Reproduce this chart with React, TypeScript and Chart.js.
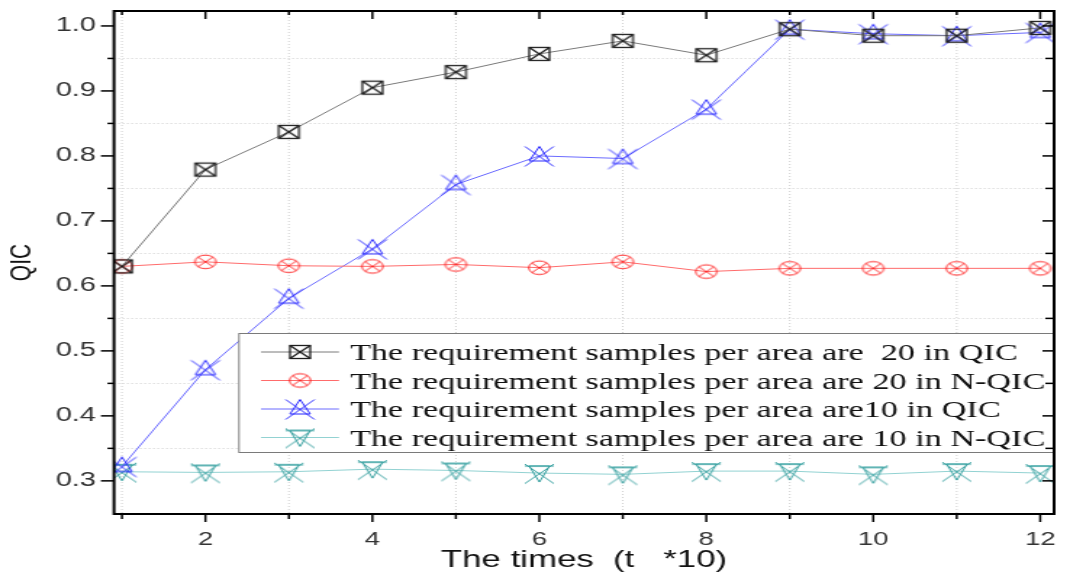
import { useEffect, useRef } from 'react';
import { Chart, registerables } from 'chart.js';

Chart.register(...registerables);

// ---- data ----
const times = [1, 2, 3, 4, 5, 6, 7, 8, 9, 10, 11, 12];
const qic20 = [0.63, 0.779, 0.837, 0.905, 0.929, 0.957, 0.977, 0.955, 0.995, 0.985, 0.985, 0.997];
const nqic20 = [0.63, 0.637, 0.631, 0.63, 0.633, 0.628, 0.637, 0.622, 0.627, 0.627, 0.627, 0.627];
const qic10 = [0.322, 0.471, 0.581, 0.657, 0.756, 0.8, 0.796, 0.872, 0.995, 0.988, 0.985, 0.99];
const nqic10 = [0.314, 0.313, 0.314, 0.318, 0.316, 0.312, 0.31, 0.315, 0.315, 0.31, 0.315, 0.312];
const seriesLabels = [
  'The requirement samples per area are  20 in QIC',
  'The requirement samples per area are 20 in N-QIC',
  'The requirement samples per area are10 in QIC',
  'The requirement samples per area are 10 in N-QIC',
];
const xMajorTicks = [2, 4, 6, 8, 10, 12];
const xMinorTicks = [1, 3, 5, 7, 9, 11];
const yMajorTicks = [0.3, 0.4, 0.5, 0.6, 0.7, 0.8, 0.9, 1.0];
const yMinorTicks = [0.35, 0.45, 0.55, 0.65, 0.75, 0.85, 0.95];
const xTitle = 'The times  (t   *10)';
const yTitle = 'QIC';

// ---- geometry (canvas is drawn narrow then stretched horizontally) ----
const STRETCH = 1.45;
const CW = Math.round(1070 / STRETCH);
const CH = 572;
const AREA_RIGHT = 1062 / STRETCH;

function makeMarker(kind: string, color: string): HTMLCanvasElement {
  const c = document.createElement('canvas');
  c.width = 24;
  c.height = 24;
  const g = c.getContext('2d')!;
  g.translate(12, 12);
  g.strokeStyle = color;
  g.lineWidth = 1;
  const line = (a: number, b: number, cc: number, d: number) => {
    g.beginPath();
    g.moveTo(a, b);
    g.lineTo(cc, d);
    g.stroke();
  };
  if (kind === 'squareX') {
    g.lineWidth = 1.3;
    g.strokeRect(-7, -6.5, 14, 13);
    line(-7, -6.5, 7, 6.5);
    line(7, -6.5, -7, 6.5);
  } else if (kind === 'circleX') {
    g.beginPath();
    g.ellipse(0, 0, 7.3, 6.8, 0, 0, Math.PI * 2);
    g.stroke();
    line(-5.2, -4.8, 5.2, 4.8);
    line(5.2, -4.8, -5.2, 4.8);
  } else if (kind === 'triX') {
    line(-10, -9.5, 10, 10.5);
    line(10, -9.5, -10, 10.5);
    g.beginPath();
    g.moveTo(0, -9.5);
    g.lineTo(7, 5);
    g.lineTo(-7, 5);
    g.closePath();
    g.stroke();
  } else {
    line(-10, -9, 10, 10.5);
    line(10, -9, -10, 10.5);
    line(-10, -7, 10, -7);
    g.beginPath();
    g.moveTo(-7, -7);
    g.lineTo(7, -7);
    g.lineTo(0, 9);
    g.closePath();
    g.stroke();
  }
  return c;
}

function makeDecorPlugin(markers: HTMLCanvasElement[]) {
  return {
    id: 'decor',
    beforeDatasetsDraw(chart: any) {
      const { ctx, chartArea: a, scales } = chart;
      const xs = scales.x;
      const ys = scales.y;
      ctx.save();
      ctx.strokeStyle = '#cfcfcf';
      ctx.lineWidth = 1;
      ctx.setLineDash([1, 2]);
      for (const v of xMinorTicks) {
        const px = xs.getPixelForValue(v);
        ctx.beginPath();
        ctx.moveTo(px, a.top);
        ctx.lineTo(px, a.bottom);
        ctx.stroke();
      }
      for (const v of yMinorTicks) {
        const py = Math.round(ys.getPixelForValue(v)) + 0.5;
        ctx.beginPath();
        ctx.moveTo(a.left, py);
        ctx.lineTo(a.right, py);
        ctx.stroke();
      }
      ctx.restore();
    },
    afterDatasetsDraw(chart: any) {
      const { ctx, chartArea: a, scales } = chart;
      const xs = scales.x;
      const ys = scales.y;

      // legend box
      const lg = { left: 239 / STRETCH, top: 333, right: a.right, bottom: 452 };
      ctx.save();
      ctx.fillStyle = '#ffffff';
      ctx.fillRect(lg.left, lg.top, lg.right - lg.left, lg.bottom - lg.top);
      ctx.strokeStyle = '#7a7a7a';
      ctx.lineWidth = 1;
      ctx.strokeRect(lg.left, lg.top + 0.5, lg.right - lg.left, lg.bottom - lg.top);
      const rows = [352, 380.5, 409, 437.5];
      chart.data.datasets.forEach((ds: any, i: number) => {
        const y = rows[i];
        ctx.strokeStyle = ds.borderColor;
        ctx.lineWidth = 1;
        ctx.beginPath();
        ctx.moveTo(261 / STRETCH, y);
        ctx.lineTo(339 / STRETCH, y);
        ctx.stroke();
        const m = markers[i];
        if (m) ctx.drawImage(m, 300 / STRETCH - m.width / 2, y - m.height / 2);
        ctx.fillStyle = '#111';
        ctx.font = '23.6px "Liberation Serif", "Times New Roman", serif';
        ctx.textBaseline = 'alphabetic';
        ctx.textAlign = 'left';
        ctx.fillText(ds.label, 350 / STRETCH, y + 8);
      });

      // frame
      ctx.strokeStyle = '#000';
      ctx.lineWidth = 2;
      ctx.strokeRect(a.left, a.top, a.right - a.left, a.bottom - a.top);

      // ticks
      ctx.lineWidth = 1.5;
      const tick = (x1: number, y1: number, x2: number, y2: number) => {
        ctx.beginPath();
        ctx.moveTo(x1, y1);
        ctx.lineTo(x2, y2);
        ctx.stroke();
      };
      for (const v of yMajorTicks) {
        const py = ys.getPixelForValue(v);
        tick(a.left - 9, py, a.left, py);
        tick(a.right - 8, py, a.right, py);
      }
      for (const v of yMinorTicks) {
        const py = ys.getPixelForValue(v);
        tick(a.left - 4.5, py, a.left, py);
        tick(a.right - 6, py, a.right, py);
      }
      for (const v of xMajorTicks) {
        const px = xs.getPixelForValue(v);
        tick(px, a.bottom, px, a.bottom + 8);
        tick(px, a.top, px, a.top + 8);
      }
      for (const v of xMinorTicks) {
        const px = xs.getPixelForValue(v);
        tick(px, a.bottom, px, a.bottom + 5);
        tick(px, a.top, px, a.top + 4);
      }
      ctx.restore();
    },
  };
}

export default function App() {
  const ref = useRef<HTMLCanvasElement>(null);

  useEffect(() => {
    const canvas = ref.current!;
    const markers = [
      makeMarker('squareX', '#1e1e1e'),
      makeMarker('circleX', '#ff2a2a'),
      makeMarker('triX', '#2525ff'),
      makeMarker('invTriX', '#2f9c9c'),
    ];
    const series = [qic20, nqic20, qic10, nqic10];
    const lineColors = ['#7a7a7a', '#ff6b6b', '#6b6bff', '#92d2d2'];
    const sansFont = '"Liberation Sans", Arial, sans-serif';

    const chart = new Chart(canvas, {
      type: 'line',
      data: {
        datasets: series.map((s, i) => ({
          label: seriesLabels[i],
          data: times.map((t, j) => ({ x: t, y: s[j] })),
          borderColor: lineColors[i],
          borderWidth: 1,
          pointStyle: markers[i] as any,
          pointRadius: 10,
          pointHoverRadius: 10,
          tension: 0,
          fill: false,
          clip: 0 as any,
        })),
      },
      plugins: [makeDecorPlugin(markers)],
      options: {
        animation: false,
        responsive: false,
        devicePixelRatio: 1,
        events: [],
        layout: { padding: { left: 0, top: 10, right: CW - AREA_RIGHT, bottom: 0 } },
        plugins: {
          legend: { display: false },
          tooltip: { enabled: false },
          title: { display: false },
        },
        scales: {
          x: {
            type: 'linear',
            min: 0.905,
            max: 12.166,
            afterBuildTicks: (s: any) => {
              s.ticks = [...xMinorTicks, ...xMajorTicks].sort((p, q) => p - q).map((v) => ({ value: v }));
            },
            afterFit: (s: any) => {
              s.height = CH - 514;
              s.paddingLeft = 0;
              s.paddingRight = 0;
            },
            ticks: {
              autoSkip: false,
              maxRotation: 0,
              padding: 6,
              color: '#333',
              font: { family: sansFont, size: 19 },
              callback: (v: any) => (xMajorTicks.includes(Number(v)) ? String(v) : ''),
            },
            grid: { drawOnChartArea: false, drawTicks: true, tickLength: 8, tickColor: 'rgba(0,0,0,0)' },
            border: { display: false },
            title: {
              display: true,
              text: xTitle,
              color: '#111',
              font: { family: sansFont, size: 24, lineHeight: 1.0 },
              padding: { top: 0, bottom: 0 },
            },
          },
          y: {
            type: 'linear',
            min: 0.249,
            max: 1.023,
            afterBuildTicks: (s: any) => {
              s.ticks = [...yMajorTicks, ...yMinorTicks].sort((p, q) => p - q).map((v) => ({ value: v }));
            },
            afterFit: (s: any) => {
              s.width = 114 / STRETCH;
              s.paddingTop = 0;
              s.paddingBottom = 0;
            },
            ticks: {
              autoSkip: false,
              padding: 4.4,
              color: '#333',
              font: { family: sansFont, size: 20 },
              callback: (v: any) => {
                const n = Number(v);
                return yMajorTicks.some((m) => Math.abs(m - n) < 1e-6) ? n.toFixed(1) : '';
              },
            },
            grid: { drawOnChartArea: false, drawTicks: true, tickLength: 8, tickColor: 'rgba(0,0,0,0)' },
            border: { display: false },
            title: {
              display: true,
              text: yTitle,
              color: '#111',
              font: { family: sansFont, size: 21 },
              padding: { top: 2.6, bottom: 0 },
            },
          },
        },
      },
    } as any);

    return () => chart.destroy();
  }, []);

  return (
    <div style={{ position: 'fixed', left: 0, top: 0, width: 1070, height: CH, background: '#fff' }}>
      <canvas
        ref={ref}
        width={CW}
        height={CH}
        style={{ width: '1070px', height: `${CH}px`, display: 'block' }}
      />
    </div>
  );
}
